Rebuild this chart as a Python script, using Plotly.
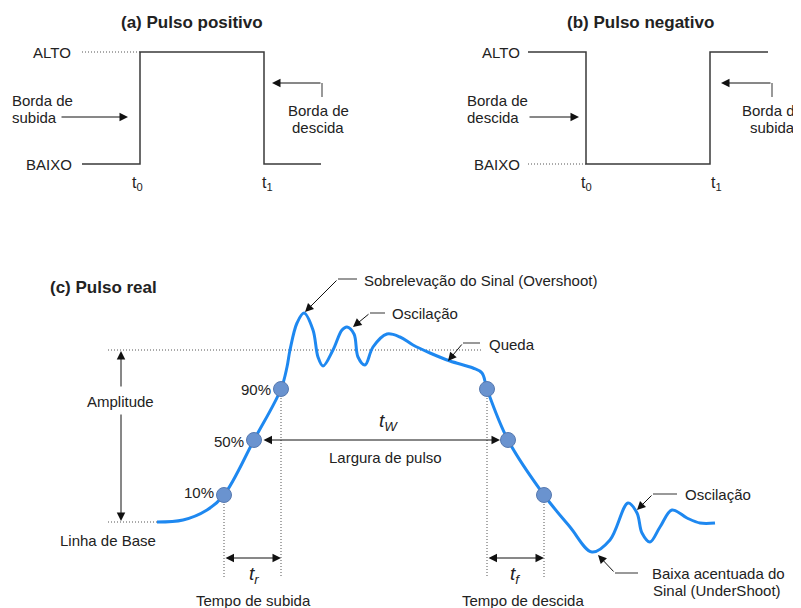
import plotly.graph_objects as go

# ---------------- data (pixel-space diagram coordinates) ----------------
PULSE_A_X = [82, 140, 140, 264, 264, 321]
PULSE_A_Y = [164, 164, 52, 52, 164, 164]
PULSE_A_DOT_X = [82, 140]
PULSE_A_DOT_Y = [52, 52]

PULSE_B_X = [528, 586, 586, 710, 710, 768]
PULSE_B_Y = [52, 52, 164, 164, 52, 52]
PULSE_B_DOT_X = [528, 586]
PULSE_B_DOT_Y = [164, 164]

CURVE_X = [157, 183, 207, 224, 254, 281, 287, 290, 297, 304, 313, 318, 323, 333, 342, 347,
           354, 358, 365, 373, 387, 400, 413, 430, 450, 473, 482, 487, 508, 544, 570, 592,
           610, 628, 637, 642, 650, 660, 672, 687, 700, 715]
CURVE_Y = [522, 520, 510, 495, 440, 389, 367, 350, 323, 313, 330, 357, 366, 350, 330, 327,
           334, 357, 365, 347, 334, 337, 345, 353, 361, 368, 373, 389, 440, 495, 527, 552,
           540, 503, 513, 533, 542, 527, 510, 518, 523, 523]

EDGE_X = [224, 254, 281, 487, 508, 544]
EDGE_Y = [495, 440, 389, 389, 440, 495]
EDGE_LABELS = ["10%", "50%", "90%"]

FONT = "Liberation Sans, Arial, sans-serif"
TXT = "#222222"
LINE = "#3a3a3a"
DOTC = "#555555"
DOT = "1px,2px"
FS = 15
TS = 17

# page body has an 8px margin: the figure is offset so diagram pixels match the window
PAD = 8
W, H = 801, 608

fig = go.Figure()


def line(xs, ys, color=LINE, width=1.5, dash=None):
    fig.add_trace(go.Scatter(x=xs, y=ys, mode="lines", hoverinfo="skip",
                             line=dict(color=color, width=width, dash=dash)))


anns = []


def text(x, y, s, size=FS, xanchor="center", bold=False, italic=False):
    if bold:
        s = "<b>" + s + "</b>"
    if italic:
        s = "<i>" + s + "</i>"
    anns.append(dict(x=x, y=y, xref="x", yref="y", text=s, showarrow=False,
                     xanchor=xanchor, yanchor="middle",
                     font=dict(family=FONT, size=size, color=TXT)))


def arrow(x0, y0, x1, y1, both=False, color="#111111"):
    d = dict(x=x1, y=y1, ax=x0, ay=y0, xref="x", yref="y", axref="x", ayref="y",
             text="", showarrow=True, arrowhead=2, arrowsize=1.7, arrowwidth=1,
             arrowcolor=color, standoff=0, startstandoff=0,
             font=dict(family=FONT, size=FS))
    if both:
        d.update(arrowside="end+start", startarrowhead=2, startarrowsize=1.7)
    anns.append(d)


# ---------------- (a) Pulso positivo ----------------
line(PULSE_A_DOT_X, PULSE_A_DOT_Y, color=DOTC, width=1, dash=DOT)
line(PULSE_A_X, PULSE_A_Y)
text(192, 22, "(a) Pulso positivo", size=TS, bold=True)
text(73, 52, "ALTO", xanchor="right")
text(74, 164, "BAIXO", xanchor="right")
text(10, 100, "Borda de", xanchor="left")
text(10, 117, "subida", xanchor="left")
arrow(60, 117, 128, 117)
line([322, 322], [97, 83], color="#555555", width=1.2)
arrow(322, 83, 272, 83)
text(318, 110, "Borda de")
text(318, 127, "descida")
text(137, 183, "t<sub>0</sub>", size=16)
text(267, 183, "t<sub>1</sub>", size=16)

# ---------------- (b) Pulso negativo ----------------
line(PULSE_B_DOT_X, PULSE_B_DOT_Y, color=DOTC, width=1, dash=DOT)
line(PULSE_B_X, PULSE_B_Y)
text(640, 22, "(b) Pulso negativo", size=TS, bold=True)
text(522, 52, "ALTO", xanchor="right")
text(522, 164, "BAIXO", xanchor="right")
text(465, 100, "Borda de", xanchor="left")
text(465, 117, "descida", xanchor="left")
arrow(528, 117, 579, 117)
line([772, 772], [97, 83], color="#555555", width=1.2)
arrow(772, 83, 721, 83)
text(772, 110, "Borda de")
text(772, 127, "subida")
text(586, 183, "t<sub>0</sub>", size=16)
text(716, 183, "t<sub>1</sub>", size=16)

# ---------------- (c) Pulso real ----------------
text(48, 287, "(c) Pulso real", size=TS, xanchor="left", bold=True)

# dotted guides
line([108, 482], [350, 350], color=DOTC, width=1, dash=DOT)
line([108, 158], [522, 522], color=DOTC, width=1, dash=DOT)
for i in [0, 2, 3, 5]:
    line([EDGE_X[i], EDGE_X[i]], [EDGE_Y[i], 577], color=DOTC, width=1, dash=DOT)

# signal
fig.add_trace(go.Scatter(x=CURVE_X, y=CURVE_Y, mode="lines", hoverinfo="skip",
                         line=dict(color="#1E88F0", width=3, shape="spline", smoothing=1.0)))
fig.add_trace(go.Scatter(x=EDGE_X, y=EDGE_Y, mode="markers", hoverinfo="skip",
                         marker=dict(size=15, color="#6A93CF",
                                     line=dict(color="#5679B0", width=1))))

# amplitude
arrow(121, 388, 121, 351)
arrow(121, 413, 121, 521)
text(120, 401, "Amplitude")
text(108, 540, "Linha de Base")

# percent labels
text(273, 389, EDGE_LABELS[2], xanchor="right")
text(246, 441, EDGE_LABELS[1], xanchor="right")
text(216, 492, EDGE_LABELS[0], xanchor="right")

# pulse width
arrow(262, 440, 500, 440, both=True)
text(388, 422, "t<sub>W</sub>", size=19, italic=True)
text(385, 457, "Largura de pulso")

# rise / fall time
arrow(224, 558, 281, 558, both=True)
arrow(487, 558, 544, 558, both=True)
text(254, 575, "t<sub>r</sub>", size=19, italic=True)
text(515, 575, "t<sub>f</sub>", size=19, italic=True)
text(253, 600, "Tempo de subida")
text(523, 600, "Tempo de descida")

# callouts
line([338, 357], [279, 279], color="#555555", width=1.2)
arrow(338, 279, 305, 312)
text(362, 280, "Sobrelevação do Sinal (Overshoot)", xanchor="left")

line([370, 385], [313, 313], color="#555555", width=1.2)
arrow(370, 313, 353, 327)
text(390, 313, "Oscilação", xanchor="left")

line([463, 480], [343, 343], color="#555555", width=1.2)
arrow(463, 343, 448, 361)
text(487, 344, "Queda", xanchor="left")

line([653, 677], [494, 494], color="#555555", width=1.2)
arrow(653, 494, 637, 510)
text(683, 494, "Oscilação", xanchor="left")

line([615, 638], [573, 573], color="#555555", width=1.2)
arrow(615, 573, 598, 555)
text(718, 573, "Baixa acentuada do")
text(717, 590, "Sinal (UnderShoot)")

fig.update_layout(
    width=W - PAD, height=H - PAD,
    margin=dict(l=0, r=0, t=0, b=0),
    paper_bgcolor="white", plot_bgcolor="white",
    showlegend=False,
    xaxis=dict(range=[PAD, W], visible=False, fixedrange=True),
    yaxis=dict(range=[H, PAD], visible=False, fixedrange=True),
    annotations=anns,
)

fig.write_html("out.html")
